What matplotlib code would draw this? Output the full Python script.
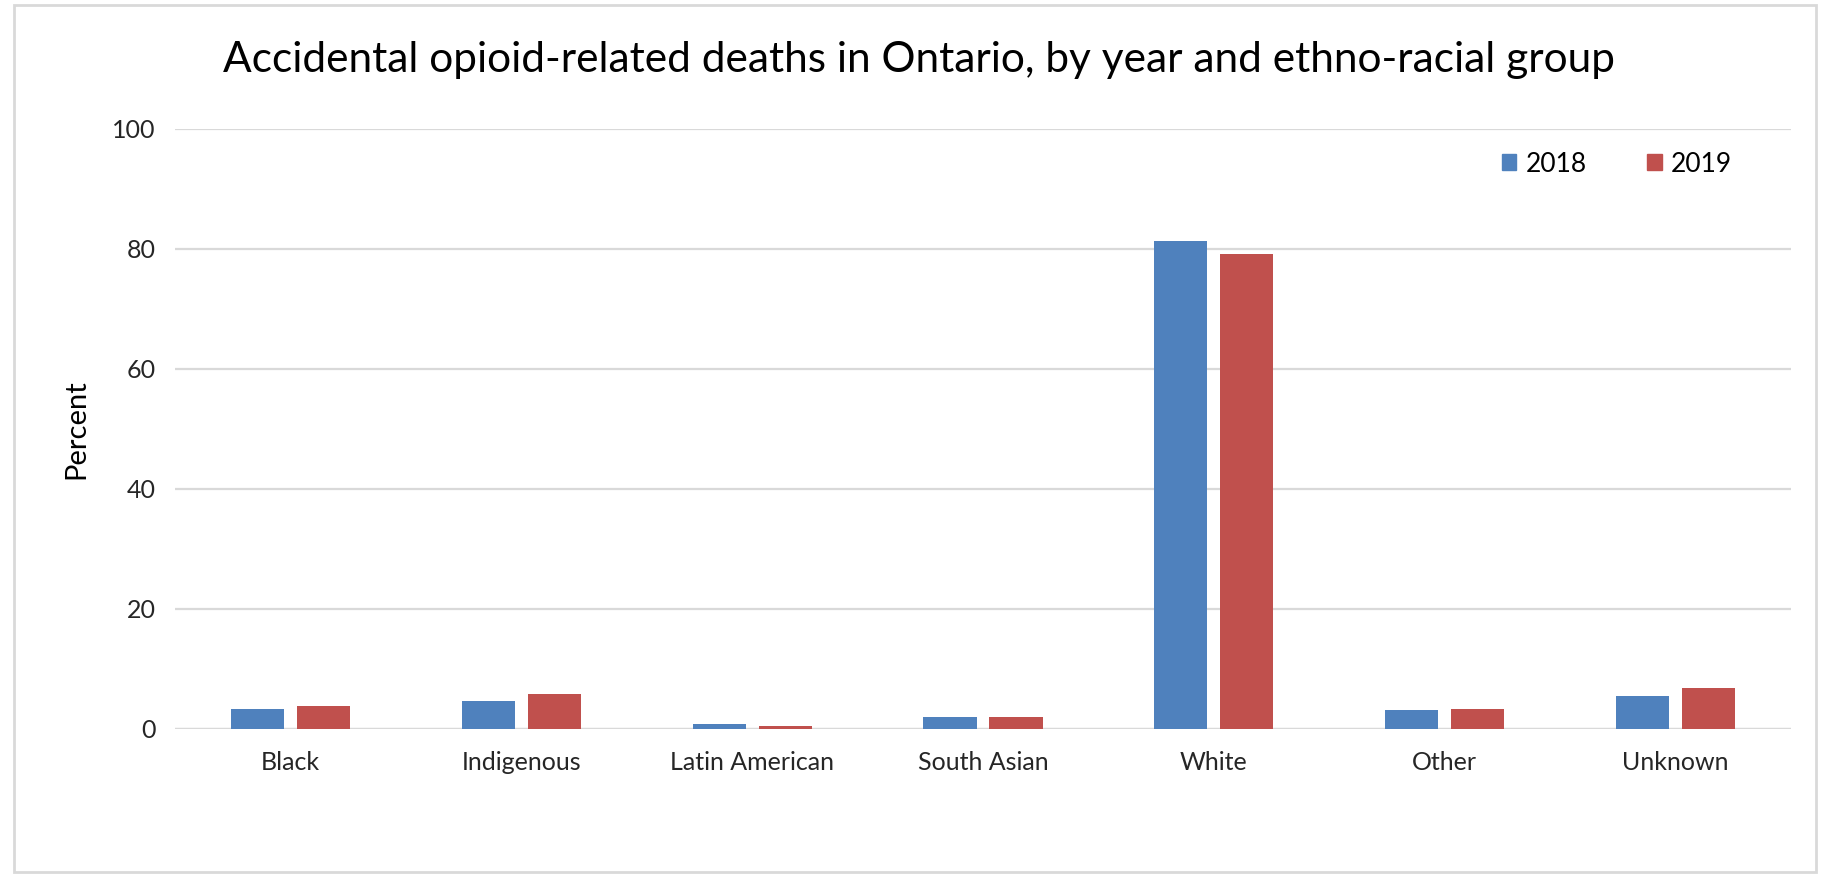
import matplotlib
matplotlib.use("Agg")
import matplotlib.pyplot as plt
from matplotlib.patches import Rectangle, Patch
import numpy as np

categories = ["Black", "Indigenous", "Latin American", "South Asian", "White", "Other", "Unknown"]
years = ["2018", "2019"]
values_2018 = [3.3, 4.7, 0.8, 2.0, 81.3, 3.1, 5.5]
values_2019 = [3.9, 5.8, 0.5, 2.0, 79.1, 3.4, 6.8]
yticks = [0, 20, 40, 60, 80, 100]

BLUE = "#4F81BD"
RED = "#C0504D"
GRID = "#D9D9D9"

plt.rcParams['font.family'] = ['Lato', 'DejaVu Sans']

fig = plt.figure(figsize=(18.32, 8.77), dpi=100)
fig.patches.append(Rectangle((14/1832, 5/877), (1816-14)/1832, (872-5)/877,
                             transform=fig.transFigure, fill=False,
                             edgecolor=GRID, linewidth=2))

ax = fig.add_axes([175/1832, 1-729/877, (1791-175)/1832, (729-128.5)/877])
x = np.arange(len(categories))
w = 0.23
off = 0.143
ax.bar(x - off, values_2018, w, color=BLUE, label=years[0], zorder=3)
ax.bar(x + off, values_2019, w, color=RED, label=years[1], zorder=3)

ax.set_xlim(-0.5, len(categories) - 0.5)
ax.set_ylim(0, 100)
ax.set_yticks(yticks)
ax.set_yticklabels([str(v) for v in yticks], fontsize=18, color="#262626")
ax.set_xticks(x)
ax.set_xticklabels(categories, fontsize=18, color="#262626")
ax.tick_params(axis='both', length=0)
ax.tick_params(axis='y', pad=14)
ax.tick_params(axis='x', pad=16)
ax.yaxis.grid(True, color=GRID, linewidth=1.6, zorder=0)
for s in ax.spines.values():
    s.set_visible(False)
ax.axhline(0, color=GRID, linewidth=1.6, zorder=2)
ax.set_ylabel("Percent", fontsize=21, color="black", labelpad=16)

fig.text(919/1832, 1-60/877, "Accidental opioid-related deaths in Ontario, by year and ethno-racial group",
         ha='center', va='center', fontsize=30.5, color="black")

handles = [Patch(color=BLUE), Patch(color=RED)]
fig.legend(handles, years, loc='center', bbox_to_anchor=(1617/1832, 1-164/877),
           ncol=2, frameon=False, fontsize=19, handlelength=0.55, handleheight=0.55,
           columnspacing=2.3, handletextpad=0.35)

fig.savefig("out.png", dpi=100)
